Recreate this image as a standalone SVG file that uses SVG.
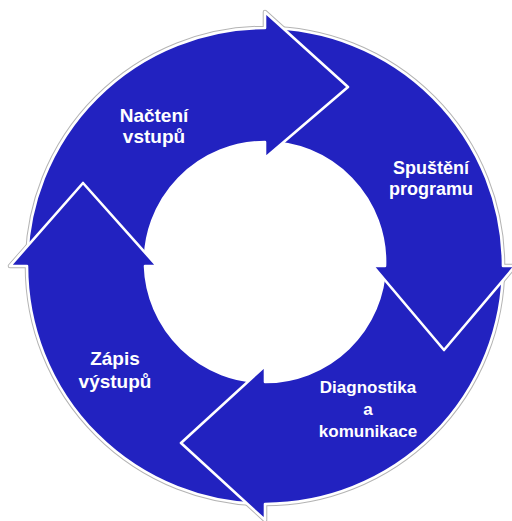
<svg xmlns="http://www.w3.org/2000/svg" xmlns:xlink="http://www.w3.org/1999/xlink" width="512" height="521" viewBox="0 0 512 521">
  <style>
    .seg { fill: #2222C0; stroke: #FFFFFF; stroke-width: 2.6; stroke-linejoin: round; }
    .halo { fill: none; stroke: #B4B4B4; stroke-width: 4.6; stroke-linejoin: round; }
    .lbl { fill: #FFFFFF; font-family: "Liberation Sans", Arial, sans-serif; font-weight: bold; text-anchor: middle; }
  </style>
  <defs>
    <!-- Each arrow is an open path: the fill closes the tail edge, the stroke leaves it out -->
    <path id="p-read" d="M 27,266 A 238 238 0 0 1 265,28 L 265,12 L 348,87 L 265,158 L 265,142 A 120 120 0 0 0 145,266"/>
    <path id="p-run" d="M 265,28 A 238 238 0 0 1 503,266 L 515,266 L 444,350 L 373,266 L 385,266 A 120 120 0 0 0 265,142"/>
    <path id="p-diag" d="M 503,266 A 238 238 0 0 1 265,504 L 265,520 L 181,443 L 265,366 L 265,382 A 120 120 0 0 0 385,266"/>
    <path id="p-write" d="M 265,504 A 238 238 0 0 1 27,266 L 10,266 L 83,183 L 157,266 L 145,266 A 120 120 0 0 0 265,382"/>
    <mask id="outer-only">
      <rect x="0" y="0" width="512" height="521" fill="#FFFFFF"/>
      <circle cx="265" cy="264" r="165" fill="#000000"/>
    </mask>
    <clipPath id="head-write">
      <rect x="0" y="0" width="270" height="266"/>
    </clipPath>
  </defs>

  <!-- soft grey rim around the outside of the ring -->
  <g id="rim" mask="url(#outer-only)">
    <use xlink:href="#p-read" class="halo"/>
    <use xlink:href="#p-run" class="halo"/>
    <use xlink:href="#p-diag" class="halo"/>
    <use xlink:href="#p-write" class="halo"/>
  </g>

  <g id="connectors">
    <!-- the cycle arrows themselves carry the flow; each head overlaps the next tail -->
  </g>

  <g id="node-write">
    <use xlink:href="#p-write" class="seg"/>
    <text class="lbl" font-size="19" x="115" y="365">Zápis</text>
    <text class="lbl" font-size="19" x="115" y="388">výstupů</text>
  </g>

  <g id="node-diag">
    <use xlink:href="#p-diag" class="seg"/>
    <text class="lbl" font-size="17" x="368" y="393">Diagnostika</text>
    <text class="lbl" font-size="17" x="368" y="415">a</text>
    <text class="lbl" font-size="17" x="368" y="437">komunikace</text>
  </g>

  <g id="node-run">
    <use xlink:href="#p-run" class="seg"/>
    <text class="lbl" font-size="18" x="431" y="174">Spuštění</text>
    <text class="lbl" font-size="18" x="431" y="195">programu</text>
  </g>

  <g id="node-read">
    <use xlink:href="#p-read" class="seg"/>
    <text class="lbl" font-size="19" x="154" y="122">Načtení</text>
    <text class="lbl" font-size="19" x="154" y="143">vstupů</text>
  </g>

  <!-- head of the left arrow sits over the tail of the top arrow -->
  <g id="node-write-head" clip-path="url(#head-write)">
    <use xlink:href="#p-write" class="seg"/>
  </g>
</svg>
